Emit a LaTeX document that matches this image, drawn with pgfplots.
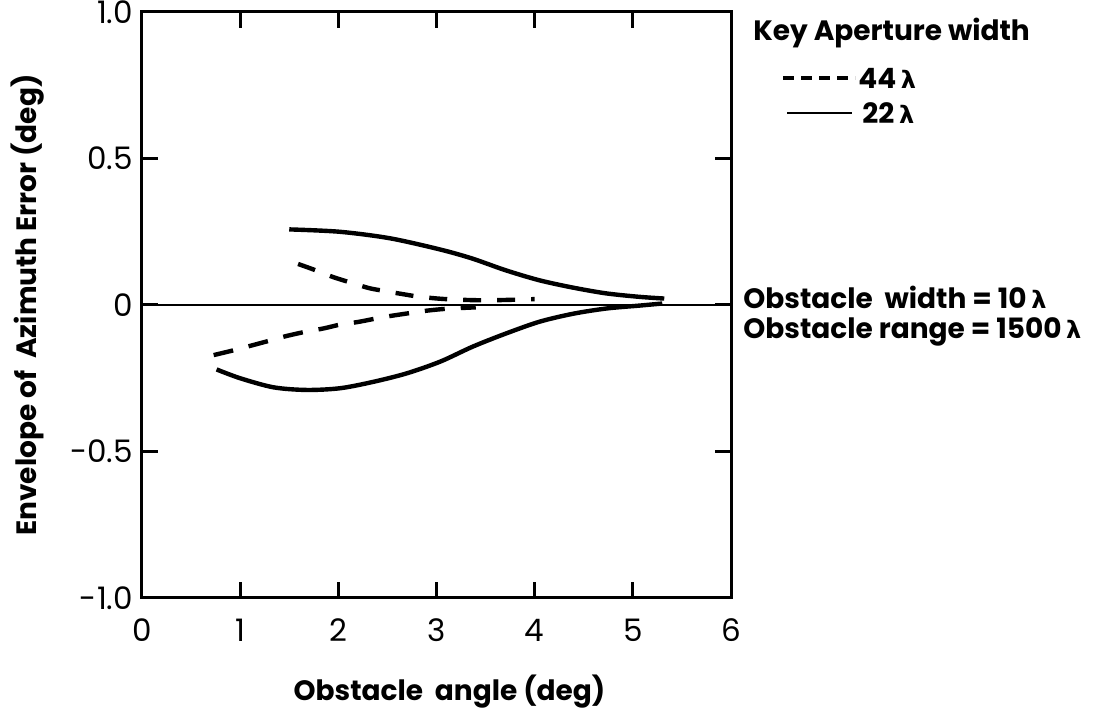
\documentclass[border=0pt]{standalone}
\usepackage{fontspec}
\setmainfont{Poppins}
\newfontfamily\greek{DejaVu Sans}
\usepackage{pgfplots}
\pgfplotsset{compat=1.18}
\newcommand{\lam}{{\greek\fontsize{12}{14}\selectfont λ}}
\newcommand{\lf}{\fontsize{14}{17}\selectfont\bfseries}
\begin{document}
\begin{tikzpicture}
\path[use as bounding box] (-71pt,-56pt) rectangle (488pt,299pt);
\begin{axis}[
  scale only axis,
  width=294.5pt, height=293pt,
  xmin=0, xmax=6, ymin=-1, ymax=1,
  axis line style={line width=1.5pt},
  every tick/.style={line width=1.5pt, black},
  major tick length=8pt,
  tick align=inside,
  xtick={0,1,2,3,4,5,6},
  xticklabels={0,1,2,3,4,5,6},
  ytick={-1,-0.5,0,0.5,1},
  yticklabels={-1.0,-0.5,0,0.5,1.0},
  xtick pos=both, ytick pos=both,
  xticklabel pos=lower, yticklabel pos=left,
  xticklabel style={font=\fontsize{15.5}{17}\selectfont, yshift=-7pt},
  yticklabel style={font=\fontsize{15.5}{17}\selectfont, xshift=-1pt},
  xlabel={Obstacle\ \ angle (deg)},
  ylabel={Envelope of\ \ Azimuth Error (deg)},
  every axis x label/.style={at={(axis description cs:0.522,-0.160)}, anchor=center, font=\lf},
  every axis y label/.style={at={(axis description cs:-0.195,0.5)}, rotate=90, anchor=center, font=\lf},
  clip=false,
]
% zero line
\addplot[black, line width=1.2pt] coordinates {(0,0) (6,0)};
% 22 lambda upper (solid)
\addplot[black, line width=2.2pt, smooth] coordinates {
(1.50,0.258) (2.01,0.250) (2.52,0.228) (3.03,0.190) (3.36,0.159) (3.70,0.119)
(4.04,0.085) (4.38,0.060) (4.72,0.040) (5.06,0.028) (5.32,0.022)};
% 22 lambda lower (solid)
\addplot[black, line width=2.2pt, smooth] coordinates {
(0.76,-0.220) (1.00,-0.250) (1.34,-0.281) (1.68,-0.290) (2.02,-0.284) (2.36,-0.262)
(2.70,-0.233) (3.04,-0.193) (3.37,-0.142) (3.71,-0.097) (4.05,-0.057) (4.39,-0.030)
(4.73,-0.012) (5.07,-0.002) (5.30,0.005)};
% 44 lambda upper (dashed)
\addplot[black, line width=2.2pt, smooth, dash pattern=on 9pt off 8pt] coordinates {
(1.59,0.140) (1.74,0.122) (1.95,0.095) (2.15,0.074) (2.32,0.057) (2.52,0.045)
(2.64,0.038) (2.83,0.028) (3.10,0.020) (3.50,0.016) (4.00,0.020)};
% 44 lambda lower (dashed)
\addplot[black, line width=2.2pt, smooth, dash pattern=on 10pt off 8pt] coordinates {
(0.73,-0.171) (0.94,-0.154) (1.13,-0.137) (1.33,-0.119) (1.47,-0.106) (1.67,-0.091)
(1.85,-0.080) (2.03,-0.066) (2.20,-0.058) (2.40,-0.045) (2.52,-0.038) (2.76,-0.026)
(2.91,-0.019) (3.10,-0.013) (3.40,-0.008)};
\end{axis}
% key
\node[anchor=west, inner sep=0pt, font=\lf] at (305.5pt,282.5pt) {Key Aperture width};
\draw[line width=1.6pt, dash pattern=on 5.5pt off 3.5pt] (320.5pt,260pt) -- (356.5pt,260pt);
\node[anchor=west, inner sep=0pt, font=\lf] at (358pt,260pt) {44\,\lam};
\draw[line width=1pt] (322.5pt,242.5pt) -- (355pt,242.5pt);
\node[anchor=west, inner sep=0pt, font=\lf] at (360pt,242.5pt) {22\,\lam};
% obstacle text
\node[anchor=west, inner sep=0pt, font=\lf] at (300.5pt,150.5pt) {Obstacle\ \ width = 10\,\lam};
\node[anchor=west, inner sep=0pt, font=\lf] at (300.5pt,133pt) {Obstacle range = 1500\,\lam};
\end{tikzpicture}
\end{document}
